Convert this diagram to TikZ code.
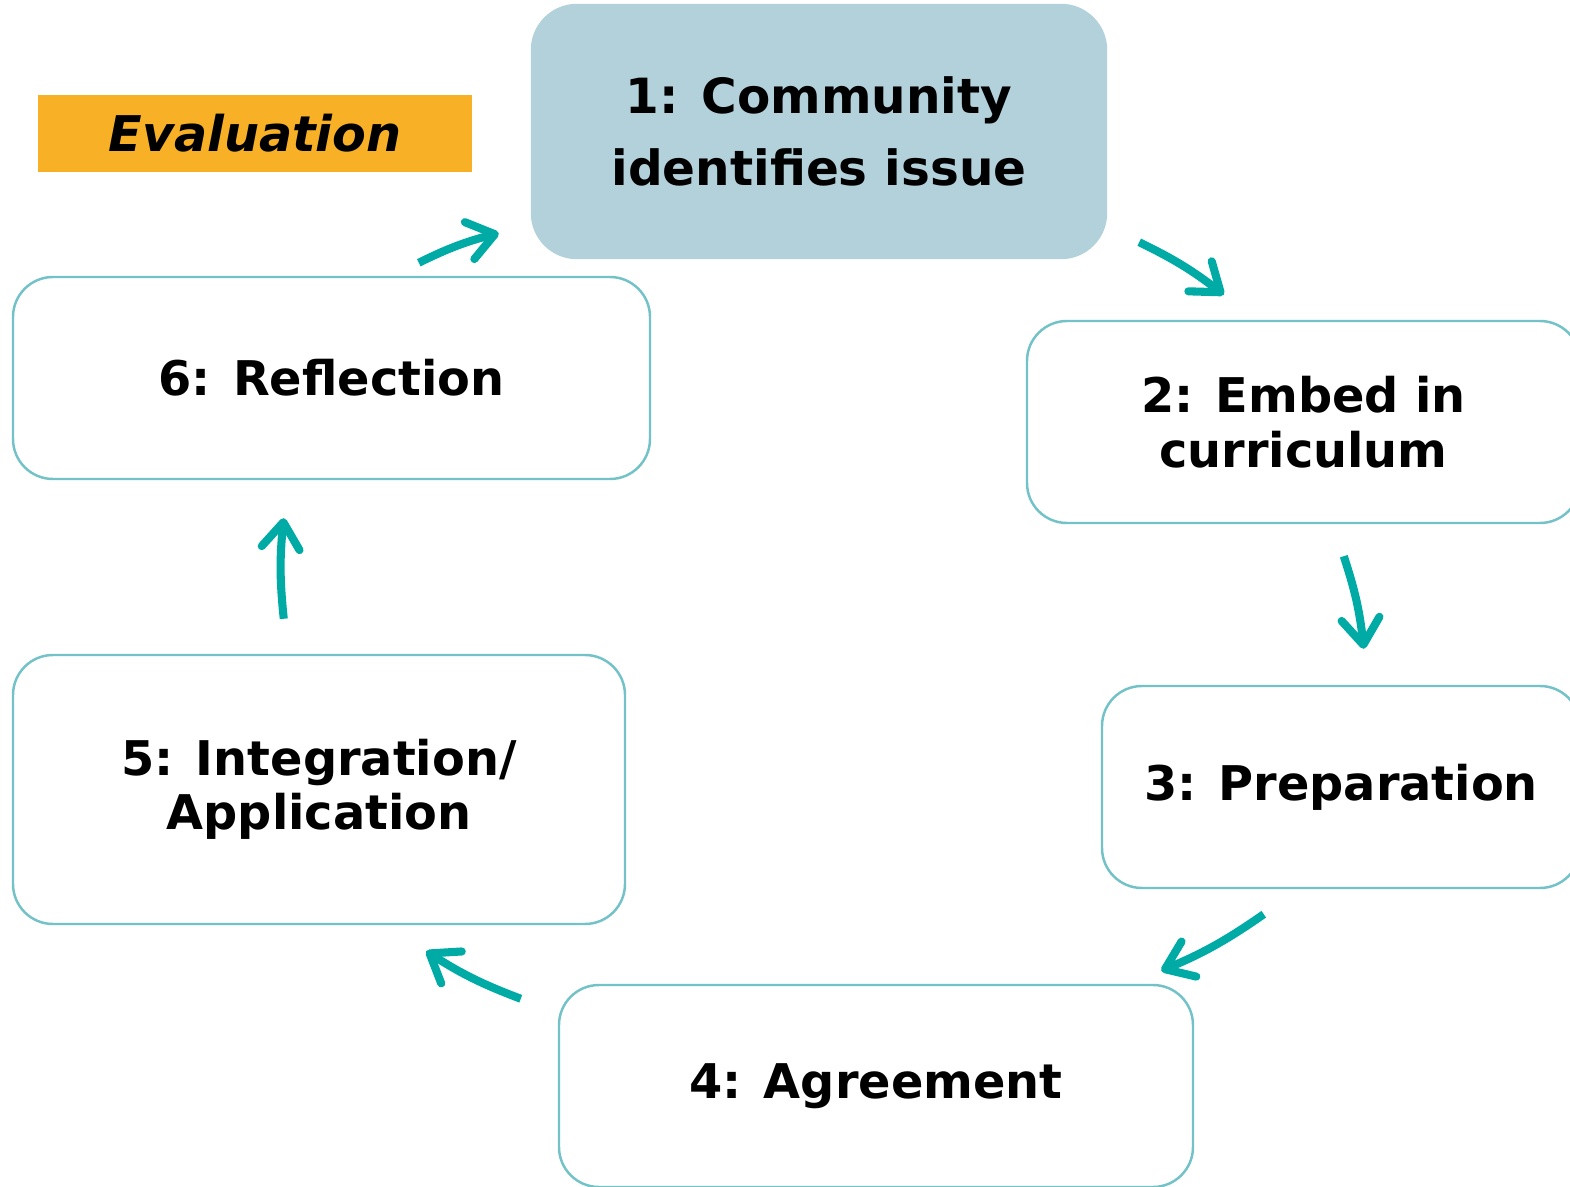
\documentclass[tikz,border=0pt]{standalone}
\usepackage{fontspec}
\setmainfont{DejaVu Sans}
\usetikzlibrary{arrows.meta}

\definecolor{stagefill}{HTML}{B3D1DB}
\definecolor{stageline}{HTML}{72C2C8}
\definecolor{evalfill}{HTML}{F8B127}
\definecolor{cycleteal}{HTML}{00ABA6}

\begin{document}
\begin{tikzpicture}[
	stage/.style={draw=stageline, line width=0.7pt, rounded corners=0.4cm, fill=white,
		align=center, font=\bfseries\fontsize{13.6}{15.5}\selectfont},
	cyc/.style={draw=cycleteal, line width=2.3pt,
		-{Straight Barb[length=2.6mm, width=3.8mm, round]}, bend left=6}
]
	\useasboundingbox (0, 0) rectangle (15.7, 11.86);

	% the six stages
	\node[stage, draw=stagefill, fill=stagefill, rounded corners=0.45cm,
		minimum width=5.74cm, minimum height=2.53cm,
		font=\bfseries\fontsize{13.8}{20.5}\selectfont] (community) at (8.19, 10.545)
		{1: Community\\identifies issue};
	\node[stage, minimum width=5.53cm, minimum height=2.02cm] (embed) at (13.035, 7.64)
		{2: Embed in\\curriculum};
	\node[stage, minimum width=4.78cm, minimum height=2.02cm] (prep) at (13.41, 3.99)
		{3: Preparation};
	\node[stage, minimum width=6.34cm, minimum height=2.02cm] (agree) at (8.76, 1.00)
		{4: Agreement};
	\node[stage, minimum width=6.12cm, minimum height=2.69cm] (integ) at (3.19, 3.965)
		{5: Integration/\\Application};
	\node[stage, minimum width=6.37cm, minimum height=2.02cm] (reflect) at (3.315, 8.08)
		{6: Reflection};

	\node[fill=evalfill, minimum width=4.34cm, minimum height=0.77cm,
		font=\bfseries\itshape\fontsize{14}{15}\selectfont] (eval) at (2.55, 10.525) {Evaluation};

	% arrows round the cycle
	\draw[cyc] ([shift={(0.32, 0.17)}]community.south east) to ([shift={(1.98, 0.25)}]embed.north west);
	\draw[cyc] ([shift={(3.18, -0.32)}]embed.south west) to ([shift={(2.63, 0.36)}]prep.north west);
	\draw[cyc] ([shift={(1.63, -0.25)}]prep.south west) to ([shift={(-0.33, 0.13)}]agree.north east);
	\draw[cyc] ([shift={(-0.37, -0.15)}]agree.north west) to ([shift={(-2.00, -0.26)}]integ.south east);
	\draw[cyc] ([shift={(2.72, 0.35)}]integ.north west) to ([shift={(2.72, -0.38)}]reflect.south west);
	\draw[cyc] ([shift={(4.07, 0.13)}]reflect.north west) to ([shift={(-0.32, 0.26)}]community.south west);
\end{tikzpicture}
\end{document}
